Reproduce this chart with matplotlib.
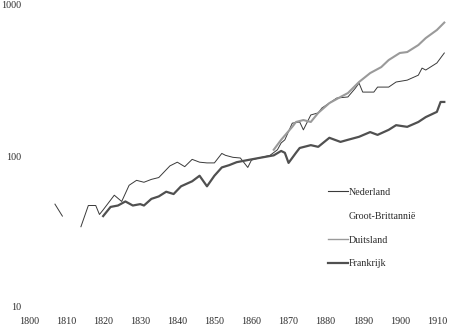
import numpy as np
import matplotlib
matplotlib.use("Agg")
import matplotlib.pyplot as plt

# Nederland (gap in the series around 1810-1813)
ned_years = [1807, 1809, 1811,
             1814, 1816, 1818, 1819, 1820, 1823, 1825, 1827, 1829, 1831, 1833, 1835,
             1838, 1840, 1842, 1844, 1846, 1848, 1850, 1852, 1853, 1855, 1857,
             1859, 1860, 1862, 1865, 1867, 1868, 1869, 1871, 1873, 1874, 1876,
             1878, 1879, 1881, 1883, 1886, 1888, 1889, 1890, 1893, 1894, 1897,
             1899, 1902, 1905, 1906, 1907, 1910, 1912]
ned_vals = [48, 40, np.nan,
            34, 47, 47, 41, 44, 55, 50, 64, 69, 67, 70, 72,
            86, 91, 85, 95, 91, 90, 90, 104, 101, 98, 97,
            84, 94, 97, 101, 110, 122, 128, 165, 168, 149, 187,
            193, 208, 224, 242, 246, 281, 304, 265, 265, 286, 286,
            309, 318, 343, 382, 371, 413, 481]

# Duitsland
dui_years = [1866, 1868, 1871, 1872, 1874, 1876, 1878, 1881, 1884, 1886,
             1889, 1892, 1895, 1897, 1900, 1902, 1905, 1907, 1910, 1912]
dui_vals = [110, 128, 156, 168, 173, 168, 193, 224, 246, 261,
            309, 354, 388, 432, 481, 488, 543, 604, 683, 765]

# Frankrijk
fra_years = [1820, 1822, 1824, 1826, 1828, 1830, 1831, 1833, 1835, 1837,
             1839, 1841, 1844, 1846, 1848, 1850, 1852, 1854, 1856, 1859,
             1862, 1866, 1868, 1869, 1870, 1872, 1873, 1876, 1878, 1881,
             1884, 1886, 1889, 1892, 1894, 1897, 1899, 1902, 1905, 1907,
             1910, 1911, 1912]
fra_vals = [40, 46, 47, 50, 47, 48, 47, 52, 54, 58,
            56, 63, 68, 74, 63, 74, 84, 87, 91, 94,
            97, 101, 108, 105, 90, 105, 113, 118, 115, 132,
            124, 128, 134, 144, 138, 149, 160, 156, 168, 181,
            196, 228, 228]

labels = ["Nederland", "Groot-Brittannië", "Duitsland", "Frankrijk"]

plt.rcParams['font.family'] = ['Liberation Serif', 'DejaVu Serif']

fig = plt.figure(figsize=(4.5, 3.28), dpi=100)
ax = fig.add_axes([29 / 450, 1 - 307 / 328, (448 - 29) / 450, 302 / 328])

ax.plot(ned_years, ned_vals, color="#3a3a3a", lw=0.7, label=labels[0])
ax.plot([], [], color="white", lw=0.8, label=labels[1])
ax.plot(dui_years, dui_vals, color="#9a9a9a", lw=1.5, label=labels[2])
ax.plot(fra_years, fra_vals, color="#505050", lw=1.6, label=labels[3])

ax.set_yscale("log")
ax.set_ylim(10, 1000)
ax.set_xlim(1800, 1913)
ax.set_yticks([10, 100, 1000])
ax.set_yticklabels(["10", "100", "1000"])
ax.minorticks_off()
ax.set_xticks(range(1800, 1911, 10))
ax.tick_params(length=0, labelsize=7.2, colors="#2a2a2a")
ax.tick_params(axis="y", pad=5.5)
ax.tick_params(axis="x", pad=7)
for s in ax.spines.values():
    s.set_visible(False)

leg = ax.legend(loc="upper left", bbox_to_anchor=(328 / 450, 1 - 188 / 328),
                bbox_transform=fig.transFigure, frameon=False, fontsize=7.2,
                handlelength=2.0, handletextpad=0.1, labelspacing=1.48,
                borderpad=0, borderaxespad=0)
leg_widths = [0.8, 0.8, 1.0, 1.6]
for h, w in zip(leg.get_lines(), leg_widths):
    h.set_linewidth(w)
for t in leg.get_texts():
    t.set_color("#2a2a2a")

fig.savefig("out.png", dpi=100)
